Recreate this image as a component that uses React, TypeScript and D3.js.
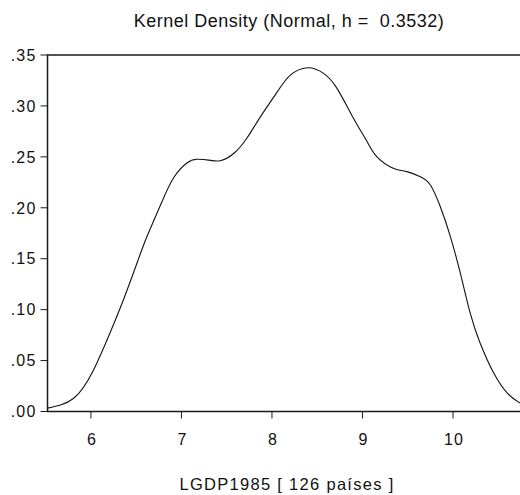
import { useEffect, useRef } from 'react'
import * as d3 from 'd3'

// density estimate
const gridX = [5.52, 5.81, 6.03, 6.21, 6.36, 6.51, 6.62, 6.77, 6.91, 7.06, 7.17, 7.3, 7.43, 7.58, 7.72, 7.87, 8.06, 8.2, 8.39, 8.57, 8.72, 8.9, 9.05, 9.16, 9.34, 9.49, 9.64, 9.75, 9.86, 9.97, 10.08, 10.19, 10.3, 10.45, 10.6, 10.74]
const density = [0.0033, 0.013, 0.041, 0.077, 0.11, 0.146, 0.172, 0.203, 0.229, 0.244, 0.2476, 0.2468, 0.2462, 0.2535, 0.268, 0.289, 0.314, 0.33, 0.3375, 0.332, 0.317, 0.288, 0.265, 0.25, 0.2388, 0.2355, 0.2305, 0.2224, 0.201, 0.172, 0.136, 0.0965, 0.067, 0.0377, 0.018, 0.0082]

const xTicks = [6, 7, 8, 9, 10]
const yTicks = [0, 0.05, 0.1, 0.15, 0.2, 0.25, 0.3, 0.35]

const title = 'Kernel Density (Normal, h =  0.3532)'
const xLabel = 'LGDP1985 [ 126 países ]'

export default function App() {
  const svgRef = useRef<SVGSVGElement>(null)

  useEffect(() => {
    const svg = d3.select(svgRef.current)
    svg.selectAll('*').remove()

    const W = 520, H = 495
    const left = 47.5, right = 520, top = 55, bottom = 411.5

    const x = d3.scaleLinear().domain([5.52, 10.74]).range([left, right])
    const y = d3.scaleLinear().domain([0, 0.35]).range([bottom, top])

    svg.attr('width', W).attr('height', H)
      .style('font-family', '"Liberation Sans", Arial, sans-serif')

    svg.append('text')
      .attr('x', 289).attr('y', 27)
      .attr('text-anchor', 'middle').attr('font-size', 18).attr('fill', '#111')
      .style('letter-spacing', '0.5px')
      .style('white-space', 'pre')
      .text(title)

    // frame: top, left, bottom
    svg.append('path')
      .attr('d', `M${right},${top}H${left}V${bottom}H${right}`)
      .attr('stroke', '#1a1a1a').attr('stroke-width', 1.5).attr('fill', 'none')

    // y ticks
    const yg = svg.append('g').style('letter-spacing', '1.2px')
    yTicks.forEach((t) => {
      yg.append('line')
        .attr('x1', left - 7).attr('x2', left)
        .attr('y1', y(t)).attr('y2', y(t))
        .attr('stroke', '#1a1a1a').attr('stroke-width', 1)
      yg.append('text')
        .attr('x', left - 11).attr('y', y(t))
        .attr('dy', '0.36em')
        .attr('text-anchor', 'end').attr('font-size', 16).attr('fill', '#111')
        .text(d3.format('.2f')(t).replace(/^0/, ''))
    })

    // x ticks
    const xg = svg.append('g').style('letter-spacing', '1.2px')
    xTicks.forEach((t) => {
      xg.append('line')
        .attr('x1', x(t)).attr('x2', x(t))
        .attr('y1', bottom).attr('y2', bottom + 7)
        .attr('stroke', '#1a1a1a').attr('stroke-width', 1)
      xg.append('text')
        .attr('x', x(t) + 1).attr('y', bottom + 33)
        .attr('text-anchor', 'middle').attr('font-size', 16).attr('fill', '#111')
        .text(t)
    })

    svg.append('text')
      .attr('x', 287).attr('y', 490)
      .attr('text-anchor', 'middle').attr('font-size', 16.5).attr('fill', '#111')
      .style('letter-spacing', '1.3px')
      .text(xLabel)

    const pts = gridX.map((gx, i) => [gx, density[i]] as [number, number])
    const line = d3.line<[number, number]>()
      .x((d) => x(d[0]))
      .y((d) => y(d[1]))
      .curve(d3.curveNatural)

    svg.append('path')
      .datum(pts)
      .attr('d', line)
      .attr('fill', 'none')
      .attr('stroke', '#111')
      .attr('stroke-width', 1.1)
  }, [])

  return <svg ref={svgRef} style={{ position: 'absolute', left: 0, top: 0 }} />
}
